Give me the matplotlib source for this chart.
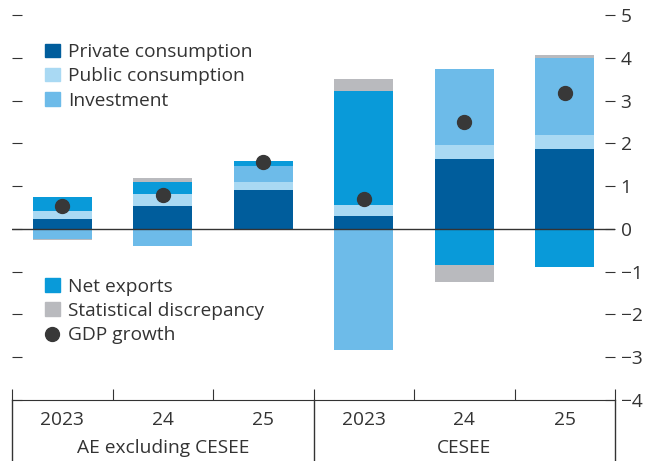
import matplotlib
matplotlib.use("Agg")
import matplotlib.pyplot as plt
from matplotlib.patches import Patch
from matplotlib.lines import Line2D
import numpy as np

years = ["2023", "24", "25", "2023", "24", "25"]
groups = ["AE excluding CESEE", "CESEE"]

private = [0.23, 0.54, 0.91, 0.29, 1.64, 1.87]
public = [0.19, 0.28, 0.19, 0.27, 0.32, 0.33]
investment = [-0.23, -0.41, 0.37, -2.83, 1.78, 1.80]
net_exports = [0.33, 0.28, 0.12, 2.66, -0.84, -0.90]
stat_disc = [-0.02, 0.09, -0.03, 0.28, -0.41, 0.07]
gdp = [0.54, 0.79, 1.56, 0.70, 2.50, 3.18]

FS = 13.8
plt.rcParams["font.family"] = ["Open Sans", "DejaVu Sans"]
plt.rcParams["font.size"] = FS
txt = "#333333"

series = [
    ("Private consumption", private, "#005d9c"),
    ("Public consumption", public, "#a9d9f3"),
    ("Investment", investment, "#6dbbe9"),
    ("Net exports", net_exports, "#099ad9"),
    ("Statistical discrepancy", stat_disc, "#b9babe"),
]

fig = plt.figure(figsize=(6.57, 4.61), dpi=100)
ax = fig.add_axes([12 / 657, 1 - 400 / 461, 603 / 657, 385 / 461])

x = np.arange(len(years))
pos = np.zeros(len(x))
neg = np.zeros(len(x))
for name, vals, col in series:
    v = np.array(vals)
    base = np.where(v >= 0, pos, neg)
    ax.bar(x, v, bottom=base, width=0.59, color=col, linewidth=0, zorder=2)
    pos = pos + np.where(v >= 0, v, 0)
    neg = neg + np.where(v < 0, v, 0)

ax.axhline(0, color="#333333", lw=1, zorder=3)
ax.plot(x, gdp, "o", color="#383838", ms=10, zorder=4)

ax.set_xlim(-0.5, 5.5)
ax.set_ylim(-4, 5)
for s in ["top", "left", "right"]:
    ax.spines[s].set_visible(False)
ax.spines["bottom"].set_color(txt)

ax.set_yticks(range(-4, 6))
ax.tick_params(axis="y", left=True, right=True, labelleft=False, labelright=True,
               direction="in", length=7, color=txt, labelcolor=txt, pad=4,
               labelsize=FS)
ax.set_xticks(np.arange(-0.5, 6, 1))
ax.tick_params(axis="x", direction="in", length=8, color=txt, labelbottom=False)

trans = ax.get_xaxis_transform()
for xi, lab in zip(x, years):
    ax.text(xi, -0.052, lab, transform=trans, ha="center", va="center",
            color=txt, fontsize=FS)
for gi, g in enumerate(groups):
    ax.text(gi * 3 + 1, -0.125, g, transform=trans, ha="center", va="center",
            color=txt, fontsize=FS)
for xb in [-0.5, 2.5, 5.5]:
    ax.plot([xb, xb], [0, -0.16], transform=trans, color=txt, lw=1, clip_on=False)

h1 = [Patch(color=c, label=n) for n, _, c in series[:3]]
h2 = [Patch(color=c, label=n) for n, _, c in series[3:]]
h2.append(Line2D([], [], marker="o", ls="", color="#383838", ms=10, label="GDP growth"))

leg_kw = dict(frameon=False, handlelength=0.75, handleheight=0.7, handletextpad=0.45,
              labelspacing=0.33, borderpad=0, borderaxespad=0, labelcolor=txt,
              fontsize=FS)
l1 = ax.legend(handles=h1, loc="upper left", bbox_to_anchor=(0.055, 0.927), **leg_kw)
ax.add_artist(l1)
ax.legend(handles=h2, loc="upper left", bbox_to_anchor=(0.055, 0.318), **leg_kw)

fig.savefig("out.png", dpi=100)
